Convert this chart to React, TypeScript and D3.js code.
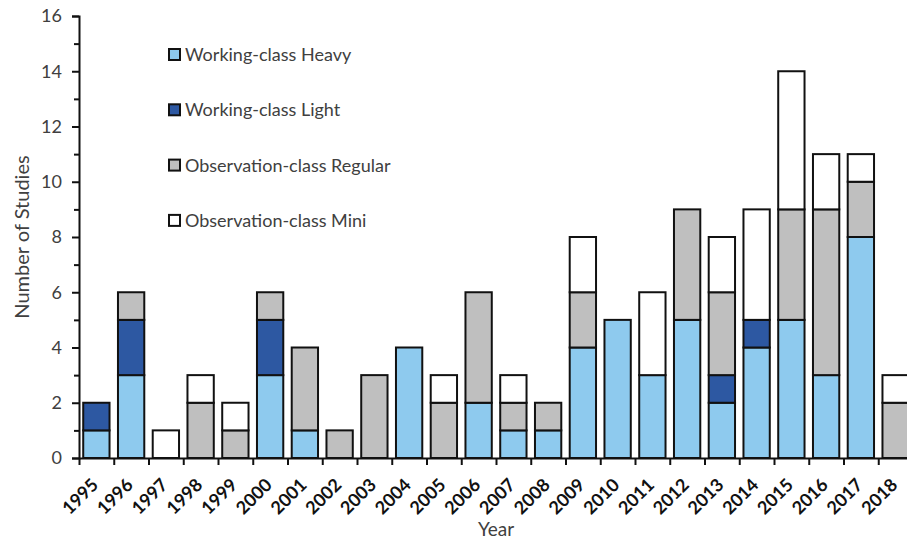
import React, { useEffect, useRef } from "react";
import * as d3 from "d3";

// chart data
const years = ["1995", "1996", "1997", "1998", "1999", "2000", "2001", "2002", "2003", "2004", "2005", "2006",
  "2007", "2008", "2009", "2010", "2011", "2012", "2013", "2014", "2015", "2016", "2017", "2018"];
const workingHeavy = [1, 3, 0, 0, 0, 3, 1, 0, 0, 4, 0, 2, 1, 1, 4, 5, 3, 5, 2, 4, 5, 3, 8, 0];
const workingLight = [1, 2, 0, 0, 0, 2, 0, 0, 0, 0, 0, 0, 0, 0, 0, 0, 0, 0, 1, 1, 0, 0, 0, 0];
const observationRegular = [0, 1, 0, 2, 1, 1, 3, 1, 3, 0, 2, 4, 1, 1, 2, 0, 0, 4, 3, 0, 4, 6, 2, 2];
const observationMini = [0, 0, 1, 1, 1, 0, 0, 0, 0, 0, 1, 0, 1, 0, 2, 0, 3, 0, 2, 4, 5, 2, 1, 1];
const seriesNames = ["Working-class Heavy", "Working-class Light", "Observation-class Regular", "Observation-class Mini"];
const seriesColors = ["#8ECAEE", "#2D58A2", "#BFBFBF", "#FFFFFF"];
const yTicks = [0, 2, 4, 6, 8, 10, 12, 14, 16];

const FONT = "Lato, 'Open Sans', sans-serif";

export default function App() {
  const ref = useRef<SVGSVGElement>(null);

  useEffect(() => {
    const svg = d3.select(ref.current);
    svg.selectAll("*").remove();

    const left = 79, right = 913, top = 16, bottom = 458;

    const rows = years.map((y, i) => ({
      year: y,
      s0: workingHeavy[i],
      s1: workingLight[i],
      s2: observationRegular[i],
      s3: observationMini[i],
    }));
    const keys = ["s0", "s1", "s2", "s3"];
    const stacked = d3.stack<any>().keys(keys)(rows);

    const x = d3.scaleBand().domain(years).range([left, right]).paddingInner(0.243).paddingOuter(0.1215);
    const y = d3.scaleLinear().domain([0, 16]).range([bottom, top]);

    // bars
    stacked.forEach((layer, k) => {
      svg.append("g")
        .selectAll("rect")
        .data(layer.filter(d => d[1] - d[0] > 0))
        .enter()
        .append("rect")
        .attr("x", d => x(d.data.year)!)
        .attr("y", d => y(d[1]))
        .attr("width", x.bandwidth())
        .attr("height", d => y(d[0]) - y(d[1]))
        .attr("fill", seriesColors[k])
        .attr("stroke", "#111")
        .attr("stroke-width", 2);
    });

    // y axis, major + minor ticks
    const yAxis = svg.append("g")
      .attr("transform", `translate(${left},0)`)
      .call(d3.axisLeft(y).tickValues(yTicks).tickSize(7).tickPadding(10));
    yAxis.select(".domain").attr("stroke", "#111").attr("stroke-width", 2);
    yAxis.selectAll(".tick line").attr("stroke", "#111").attr("stroke-width", 2);
    yAxis.selectAll("text").attr("font-family", FONT).attr("font-size", 18).attr("fill", "#404040");

    const yMinor = svg.append("g")
      .attr("transform", `translate(${left},0)`)
      .call(d3.axisLeft(y).tickValues(d3.range(1, 16, 2)).tickSize(5).tickFormat(() => ""));
    yMinor.select(".domain").remove();
    yMinor.selectAll(".tick line").attr("stroke", "#111").attr("stroke-width", 2);

    // x axis: ticks on category boundaries, labels on centres
    const xEdges = d3.scaleLinear().domain([0, years.length]).range([left, right]);
    const xAxis = svg.append("g")
      .attr("transform", `translate(0,${bottom})`)
      .call(d3.axisBottom(xEdges).tickValues(d3.range(0, years.length + 1)).tickSize(7).tickFormat(() => "").tickSizeOuter(0));
    xAxis.select(".domain").attr("stroke", "#111").attr("stroke-width", 2);
    xAxis.selectAll(".tick line").attr("stroke", "#111").attr("stroke-width", 2);

    const xLabels = svg.append("g")
      .attr("transform", `translate(0,${bottom})`)
      .call(d3.axisBottom(x).tickSize(0).tickPadding(0));
    xLabels.select(".domain").remove();
    xLabels.selectAll("text")
      .attr("font-family", FONT)
      .attr("font-size", 18)
      .attr("font-weight", 700)
      .attr("fill", "#111")
      .attr("text-anchor", "end")
      .attr("y", 0)
      .attr("dy", null)
      .attr("transform", "translate(3,28) rotate(-45)");

    // axis titles
    svg.append("text")
      .attr("x", (left + right) / 2)
      .attr("y", 536)
      .attr("text-anchor", "middle")
      .attr("font-family", FONT)
      .attr("font-size", 19)
      .attr("fill", "#404040")
      .text("Year");

    svg.append("text")
      .attr("transform", `translate(29,${(top + bottom) / 2}) rotate(-90)`)
      .attr("text-anchor", "middle")
      .attr("font-family", FONT)
      .attr("font-size", 20)
      .attr("fill", "#404040")
      .text("Number of Studies");

    // legend
    const legend = svg.append("g");
    seriesNames.forEach((name, i) => {
      const cy = 55 + i * 55.3;
      legend.append("rect")
        .attr("x", 169).attr("y", cy - 6)
        .attr("width", 11).attr("height", 11)
        .attr("fill", seriesColors[i])
        .attr("stroke", "#111")
        .attr("stroke-width", 2);
      legend.append("text")
        .attr("x", 185).attr("y", cy + 6)
        .attr("font-family", FONT)
        .attr("font-size", 18)
        .attr("fill", "#404040")
        .text(name);
    });
  }, []);

  return (
    <svg ref={ref} width={907} height={539}
      style={{ position: "absolute", left: 0, top: 0, background: "#fff" }} />
  );
}
